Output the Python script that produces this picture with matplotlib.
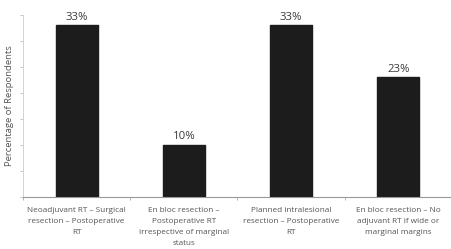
import matplotlib.pyplot as plt
import numpy as np

plt.rcParams['font.family'] = ['Open Sans', 'DejaVu Sans']

categories = ['Neoadjuvant RT \u2013 Surgical\nresection \u2013 Postoperative\nRT',
              'En bloc resection \u2013\nPostoperative RT\nirrespective of marginal\nstatus',
              'Planned intralesional\nresection \u2013 Postoperative\nRT',
              'En bloc resection \u2013 No\nadjuvant RT if wide or\nmarginal margins']
values = [33, 10, 33, 23]
labels = ['33%', '10%', '33%', '23%']

fig = plt.figure(figsize=(4.52, 2.49), dpi=100)
ax = fig.add_axes([23/452, 1-197/249, 429/452, 182/249])

x = np.arange(len(values))
bars = ax.bar(x, values, width=0.39, color='#1c1c1c', edgecolor='#1c1c1c')
for xi, v, lab in zip(x, values, labels):
    ax.text(xi, v + 0.5, lab, ha='center', va='bottom', fontsize=8.2, color='#3a3a3a')

ax.set_xlim(-0.5, 3.5)
ax.set_ylim(0, 35)
ax.set_yticks(np.arange(0, 36, 5))
ax.set_yticklabels([])
ax.set_xticks(np.arange(-0.5, 3.6, 1))
ax.set_xticklabels([])
ax.tick_params(axis='y', length=2, color='#bbbbbb', width=0.6)
ax.tick_params(axis='x', length=2, color='#aaaaaa', width=0.6)
for i, c in enumerate(categories):
    ax.text(i, -1.9, c, ha='center', va='top', fontsize=5.9, color='#555555',
            linespacing=1.8, transform=ax.transData)

ax.spines['top'].set_visible(False)
ax.spines['right'].set_visible(False)
ax.spines['left'].set_color('#cccccc')
ax.spines['left'].set_linewidth(0.6)
ax.spines['bottom'].set_color('#999999')
ax.spines['bottom'].set_linewidth(0.8)

ax.set_ylabel('Percentage of Respondents', fontsize=6.8, color='#555555', labelpad=1)

fig.savefig('out.png', dpi=100)
